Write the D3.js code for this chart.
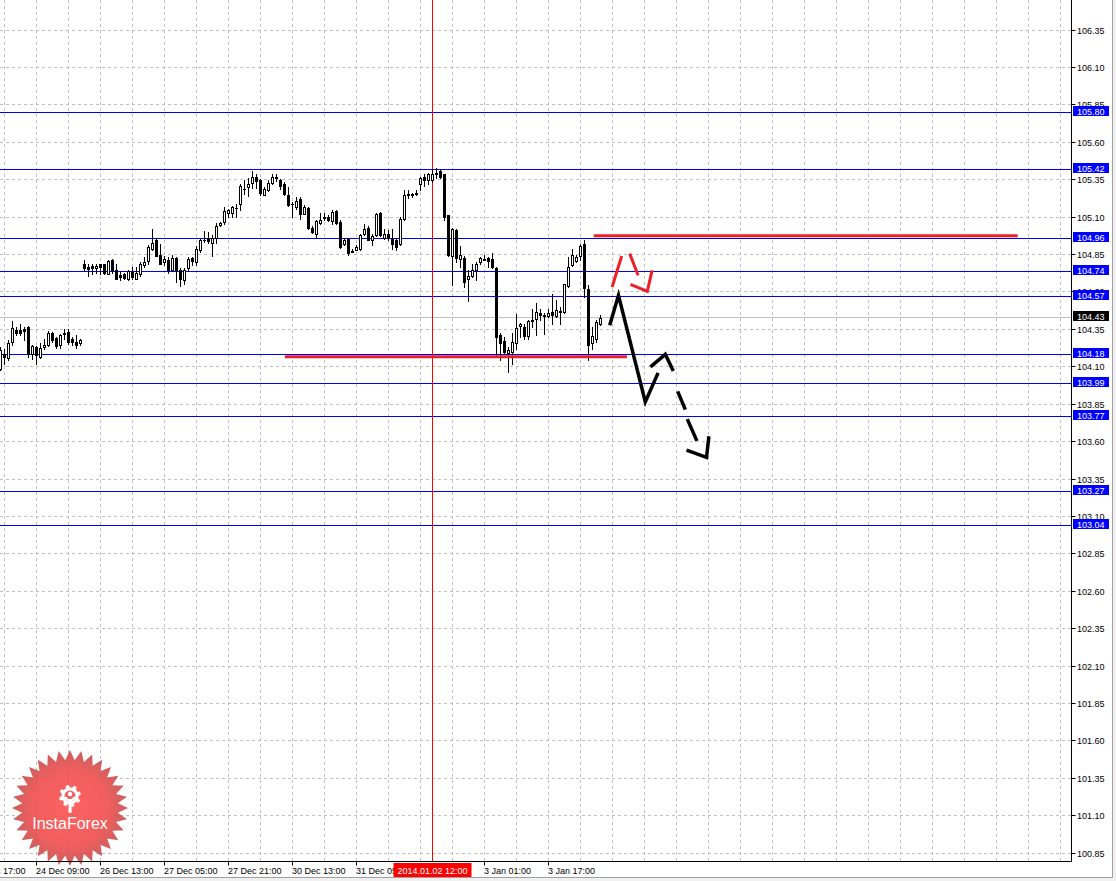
<!DOCTYPE html>
<html>
<head>
<meta charset="utf-8">
<script src="https://d3js.org/d3.v7.min.js"></script>
<style>
  body { margin: 0; background: #fff; }
  svg { display: block; }
  text { font-family: "Liberation Sans", Arial, sans-serif; }
</style>
</head>
<body>
<div id="chart"></div>
<script>
// USDJPY H1 candles, bar 0 = left edge of the window
const opens = [104.085,104.185,104.158,104.263,104.345,104.341,104.347,104.363,104.180,104.229,104.163,104.229,104.243,104.320,104.289,104.240,104.314,104.329,104.280,104.260,104.256,
  104.785,104.763,104.768,104.759,104.781,104.781,104.719,104.808,104.746,104.710,104.719,104.685,104.728,104.685,104.719,104.777,104.803,104.881,104.941,104.846,
  104.797,104.808,104.741,104.826,104.741,104.679,104.757,104.826,104.797,104.879,104.941,104.959,104.926,104.959,105.044,105.061,105.124,105.124,105.159,105.186,
  105.282,105.297,105.324,105.364,105.346,105.246,105.279,105.324,105.364,105.346,105.320,105.248,105.186,105.164,105.219,105.119,105.159,105.021,104.986,105.059,
  105.090,105.097,105.070,105.139,105.061,104.915,104.948,104.870,104.879,104.886,104.981,105.026,104.941,104.975,105.126,104.959,104.986,104.948,104.941,104.917,
  105.086,105.246,105.248,105.253,105.315,105.368,105.346,105.346,105.382,105.404,105.382,105.108,104.834,105.008,104.819,104.826,104.681,104.701,104.741,104.797,
  104.819,104.823,104.819,104.759,104.307,104.267,104.189,104.196,104.256,104.367,104.363,104.300,104.407,104.418,104.456,104.441,104.436,104.465,104.436,104.467,
  104.463,104.636,104.779,104.803,104.837,104.919,104.619,104.256,104.285,104.385];
const highs = [104.229,104.218,104.274,104.401,104.363,104.385,104.363,104.369,104.240,104.234,104.258,104.285,104.334,104.329,104.296,104.318,104.347,104.347,104.296,104.307,104.285,
  104.808,104.781,104.785,104.785,104.781,104.785,104.808,104.819,104.781,104.730,104.723,104.741,104.763,104.763,104.797,104.830,104.908,105.019,104.959,104.919,
  104.834,104.830,104.841,104.830,104.759,104.759,104.830,104.830,104.901,104.952,105.003,104.997,104.975,105.057,105.064,105.164,105.153,105.168,105.186,105.320,
  105.346,105.360,105.404,105.382,105.353,105.297,105.342,105.382,105.382,105.353,105.331,105.297,105.197,105.231,105.231,105.175,105.164,105.035,105.079,105.124,
  105.124,105.108,105.142,105.146,105.075,104.959,104.959,104.886,104.908,104.986,105.048,105.035,104.981,105.124,105.130,105.019,105.012,105.019,104.959,105.097,
  105.279,105.279,105.257,105.279,105.368,105.386,105.391,105.420,105.426,105.420,105.386,105.113,105.026,105.019,104.901,104.834,104.741,104.785,104.797,104.830,
  104.841,104.830,104.857,104.763,104.323,104.296,104.229,104.323,104.447,104.392,104.385,104.407,104.485,104.525,104.485,104.456,104.485,104.581,104.541,104.496,
  104.652,104.830,104.886,104.841,104.919,104.941,104.641,104.363,104.407,104.441];
const lows = [104.074,104.118,104.140,104.240,104.307,104.307,104.274,104.163,104.151,104.118,104.158,104.218,104.234,104.263,104.223,104.225,104.285,104.251,104.240,104.223,104.245,
  104.746,104.703,104.719,104.723,104.719,104.714,104.714,104.723,104.681,104.679,104.681,104.679,104.685,104.681,104.701,104.763,104.785,104.875,104.834,104.781,
  104.774,104.723,104.737,104.663,104.634,104.652,104.746,104.774,104.774,104.863,104.930,104.923,104.834,104.923,105.035,105.053,105.097,105.097,105.101,105.142,
  105.253,105.235,105.293,105.293,105.248,105.242,105.271,105.315,105.337,105.286,105.242,105.168,105.101,105.153,105.086,105.115,105.019,104.990,104.959,105.048,
  105.079,105.070,105.053,105.053,104.892,104.908,104.841,104.863,104.875,104.879,104.975,104.941,104.908,104.968,104.968,104.952,104.941,104.886,104.879,104.912,
  105.075,105.226,105.231,105.248,105.279,105.308,105.320,105.331,105.360,105.360,105.075,104.834,104.641,104.797,104.763,104.630,104.536,104.697,104.674,104.785,
  104.808,104.763,104.759,104.174,104.145,104.180,104.062,104.118,104.218,104.296,104.285,104.285,104.363,104.307,104.407,104.318,104.430,104.385,104.430,104.385,
  104.456,104.630,104.768,104.797,104.808,104.563,104.140,104.218,104.263,104.374];
const closes = [104.207,104.163,104.258,104.358,104.323,104.323,104.336,104.185,104.238,104.174,104.225,104.245,104.325,104.274,104.236,104.307,104.320,104.263,104.263,104.245,104.278,
  104.759,104.752,104.759,104.768,104.763,104.723,104.801,104.741,104.685,104.697,104.692,104.737,104.697,104.725,104.785,104.799,104.897,104.926,104.837,104.785,
  104.819,104.741,104.823,104.741,104.681,104.746,104.819,104.803,104.886,104.941,104.946,104.937,104.959,105.039,105.059,105.139,105.142,105.164,105.160,105.308,
  105.286,105.320,105.368,105.337,105.257,105.288,105.322,105.368,105.360,105.304,105.253,105.179,105.182,105.208,105.119,105.164,105.026,104.997,105.068,105.081,
  105.097,105.081,105.130,105.059,104.897,104.941,104.859,104.863,104.897,104.979,105.019,104.946,104.968,105.119,104.975,104.981,104.959,104.919,104.897,105.086,
  105.242,105.253,105.253,105.257,105.360,105.346,105.382,105.386,105.391,105.364,105.097,104.841,105.019,104.826,104.841,104.663,104.703,104.746,104.785,104.823,
  104.812,104.803,104.763,104.296,104.256,104.196,104.207,104.265,104.358,104.381,104.300,104.403,104.403,104.463,104.441,104.434,104.458,104.441,104.478,104.461,
  104.648,104.763,104.846,104.830,104.903,104.625,104.240,104.300,104.396,104.425];

const priceTicks = [106.35,106.10,105.85,105.60,105.35,105.10,104.85,104.60,104.35,104.10,103.85,103.60,103.35,103.10,
  102.85,102.60,102.35,102.10,101.85,101.60,101.35,101.10,100.85];
const timeTickBars = [-7, 9, 25, 41, 57, 73, 89, 121, 137];
const timeTickLabels = ["23 Dec 17:00","24 Dec 09:00","26 Dec 13:00","27 Dec 05:00","27 Dec 21:00",
  "30 Dec 13:00","31 Dec 05:00","3 Jan 01:00","3 Jan 17:00"];

const levels = [105.80, 105.42, 104.96, 104.74, 104.57, 104.18, 103.99, 103.77, 103.27, 103.04];
const bid = 104.43;
const cursorBar = 108;
const cursorLabel = "2014.01.02 12:00";

// [bar, price] points of the hand drawn objects
const redLines = [
  [[71.1, 104.164], [156.6, 104.164]],
  [[148.3, 104.972], [254.3, 104.972]]
];
const redArrow = [
  [[152.9, 104.630], [155.3, 104.837]],
  [[157.3, 104.853], [159.4, 104.708]],
  [[157.5, 104.648], [161.7, 104.601], [162.9, 104.741]]
];
const blackArrow = [
  [[152.3, 104.374], [154.5, 104.574], [161.2, 103.862], [164.4, 104.056]],
  [[162.5, 104.096], [166.2, 104.180], [168.2, 104.069]],
  [[169.3, 103.933], [171.2, 103.811]],
  [[171.7, 103.747], [174.1, 103.602]],
  [[171.5, 103.540], [176.5, 103.491], [177.1, 103.633]]
];

const width = 1116, height = 881;
const plotRight = 1071.5, plotBottom = 861.5;

const svg = d3.select("#chart").append("svg")
  .attr("width", width)
  .attr("height", height)
  .style("background-color", "white");

const x = d3.scaleLinear().domain([0, 1]).range([0.5, 4.5]);
const y = d3.scaleLinear().domain([106.35, 100.85]).range([29.6, 29.6 + 5.5 * 149.65]);
const cy = p => Math.round(y(p)) + 0.5;

// grid
const grid = svg.append("g")
  .attr("stroke", "#c0c0c0")
  .attr("stroke-dasharray", "3,3");

grid.selectAll("line.h").data(priceTicks).join("line")
  .attr("x1", 0).attr("x2", plotRight)
  .attr("y1", d => cy(d)).attr("y2", d => cy(d));

grid.selectAll("line.v").data(d3.range(1, 270, 8)).join("line")
  .attr("x1", d => x(d)).attr("x2", d => x(d))
  .attr("y1", 0).attr("y2", plotBottom);

// logo
const defs = svg.append("defs");
const grad = defs.append("radialGradient").attr("id", "logoGrad");
grad.append("stop").attr("offset", "0%").attr("stop-color", "#ff4d4d");
grad.append("stop").attr("offset", "65%").attr("stop-color", "#f04848");
grad.append("stop").attr("offset", "100%").attr("stop-color", "#c24a48");

const logo = svg.append("g").attr("transform", "translate(70,808)").attr("opacity", 0.88);
const spikes = 32;
const starPts = d3.range(spikes * 2).map(k => {
  const r = k % 2 ? 48 : 58;
  const a = Math.PI * k / spikes - Math.PI / 2;
  return [r * Math.cos(a), r * Math.sin(a)];
});
logo.append("path")
  .attr("d", d3.line()(starPts) + "Z")
  .attr("fill", "url(#logoGrad)");

const gearPts = d3.range(48).map(k => {
  const a = Math.PI * 2 * k / 48;
  const r = (Math.floor(k / 3) % 2) ? 11 : 8.5;
  return [r * Math.cos(a), -12 + r * Math.sin(a)];
});
logo.append("path").attr("d", d3.line()(gearPts) + "Z").attr("fill", "white");
logo.append("circle").attr("cx", 0).attr("cy", -12).attr("r", 5.5).attr("fill", "#f24a4a");
logo.append("rect").attr("x", -1.5).attr("y", -9).attr("width", 3).attr("height", 14).attr("fill", "white");
logo.append("rect").attr("x", -2.5).attr("y", 3).attr("width", 5).attr("height", 3).attr("fill", "#f24a4a");
logo.append("rect").attr("x", -1.5).attr("y", 2).attr("width", 3).attr("height", 3).attr("fill", "white");
logo.append("path").attr("d", "M-5,-11 L0,-6 L5,-11").attr("stroke", "white").attr("stroke-width", 2).attr("fill", "none");
logo.append("circle").attr("cx", 0).attr("cy", -14).attr("r", 2.2).attr("fill", "white");
logo.append("text")
  .attr("x", 0).attr("y", 21)
  .attr("text-anchor", "middle")
  .attr("fill", "white")
  .style("font-size", "16px")
  .text("InstaForex");

// levels
svg.append("g").selectAll("line").data(levels).join("line")
  .attr("x1", 0).attr("x2", plotRight)
  .attr("y1", d => cy(d)).attr("y2", d => cy(d))
  .attr("stroke", "#0000ff");

svg.append("line")
  .attr("x1", 0).attr("x2", plotRight)
  .attr("y1", cy(bid)).attr("y2", cy(bid))
  .attr("stroke", "#c0c0c0");

svg.append("line")
  .attr("x1", x(cursorBar)).attr("x2", x(cursorBar))
  .attr("y1", 0).attr("y2", plotBottom)
  .attr("stroke", "#ff0000");

// candles
const bars = opens.map((o, i) => ({ i, o, h: highs[i], l: lows[i], c: closes[i] }));
const cg = svg.append("g");

cg.selectAll("line.wick").data(bars).join("line")
  .attr("x1", d => x(d.i)).attr("x2", d => x(d.i))
  .attr("y1", d => Math.round(y(d.h))).attr("y2", d => Math.round(y(d.l)) + 1)
  .attr("stroke", "black");

cg.selectAll("rect.body").data(bars.filter(d => Math.abs(cy(d.o) - cy(d.c)) >= 1)).join("rect")
  .attr("x", d => x(d.i) - 1)
  .attr("width", 2)
  .attr("y", d => cy(Math.max(d.o, d.c)))
  .attr("height", d => cy(Math.min(d.o, d.c)) - cy(Math.max(d.o, d.c)))
  .attr("fill", d => d.c > d.o ? "white" : "black")
  .attr("stroke", "black");

cg.selectAll("line.doji").data(bars.filter(d => Math.abs(cy(d.o) - cy(d.c)) < 1)).join("line")
  .attr("x1", d => x(d.i) - 1.5).attr("x2", d => x(d.i) + 1.5)
  .attr("y1", d => cy(d.c)).attr("y2", d => cy(d.c))
  .attr("stroke", "black");

// drawn objects
const pathLine = d3.line().x(d => x(d[0])).y(d => y(d[1]));

svg.append("g").selectAll("path").data(redLines).join("path")
  .attr("d", pathLine)
  .attr("stroke", "#ed2024").attr("stroke-width", 3).attr("fill", "none");

svg.append("g").selectAll("path").data(redArrow).join("path")
  .attr("d", pathLine)
  .attr("stroke", "#ed2024").attr("stroke-width", 3)
  .attr("stroke-linejoin", "miter").attr("fill", "none");

svg.append("g").selectAll("path").data(blackArrow).join("path")
  .attr("d", pathLine)
  .attr("stroke", "black").attr("stroke-width", 3.5)
  .attr("stroke-linejoin", "miter").attr("fill", "none");

// frame and axes
svg.append("rect")
  .attr("x", 0).attr("y", 877.5).attr("width", width).attr("height", 4)
  .attr("fill", "#f0f0f0");
svg.append("path")
  .attr("d", `M0,877.5H1112.5V0`)
  .attr("stroke", "#a0a0a0").attr("fill", "none");
svg.append("rect")
  .attr("x", 1113).attr("y", 0).attr("width", 3).attr("height", height)
  .attr("fill", "#f0f0f0");

svg.append("path")
  .attr("d", `M0,${plotBottom}H${plotRight}V0`)
  .attr("stroke", "black").attr("fill", "none");

const yAxis = svg.append("g");
yAxis.selectAll("line").data(priceTicks).join("line")
  .attr("x1", plotRight).attr("x2", plotRight + 4)
  .attr("y1", d => cy(d)).attr("y2", d => cy(d))
  .attr("stroke", "black");
yAxis.selectAll("text").data(priceTicks).join("text")
  .attr("x", 1077).attr("y", d => cy(d) + 3)
  .style("font-size", "9px")
  .text(d => d.toFixed(2));

const xAxis = svg.append("g");
xAxis.selectAll("line").data(timeTickBars).join("line")
  .attr("x1", d => x(d)).attr("x2", d => x(d))
  .attr("y1", plotBottom).attr("y2", plotBottom + 4)
  .attr("stroke", "black");
xAxis.selectAll("text").data(timeTickBars).join("text")
  .attr("x", d => x(d) - 0.5).attr("y", 874)
  .style("font-size", "9px")
  .text((d, i) => timeTickLabels[i]);

// price labels on the axis
const tags = [...levels.map(v => ({ v, fill: "#0000ff" })), { v: bid, fill: "black" }];
const tag = svg.append("g").selectAll("g").data(tags).join("g")
  .attr("transform", d => `translate(1073,${Math.round(y(d.v)) - 6})`);
tag.append("rect").attr("width", 36).attr("height", 10).attr("fill", d => d.fill);
tag.append("text").attr("x", 4).attr("y", 9)
  .attr("fill", "white").style("font-size", "9px")
  .text(d => d.v.toFixed(2));

// cursor time label
svg.append("rect")
  .attr("x", x(cursorBar) - 39).attr("y", 863).attr("width", 78).attr("height", 14)
  .attr("fill", "#ff0000");
svg.append("text")
  .attr("x", x(cursorBar)).attr("y", 874)
  .attr("text-anchor", "middle").attr("fill", "white")
  .style("font-size", "9px")
  .text(cursorLabel);
</script>
</body>
</html>
